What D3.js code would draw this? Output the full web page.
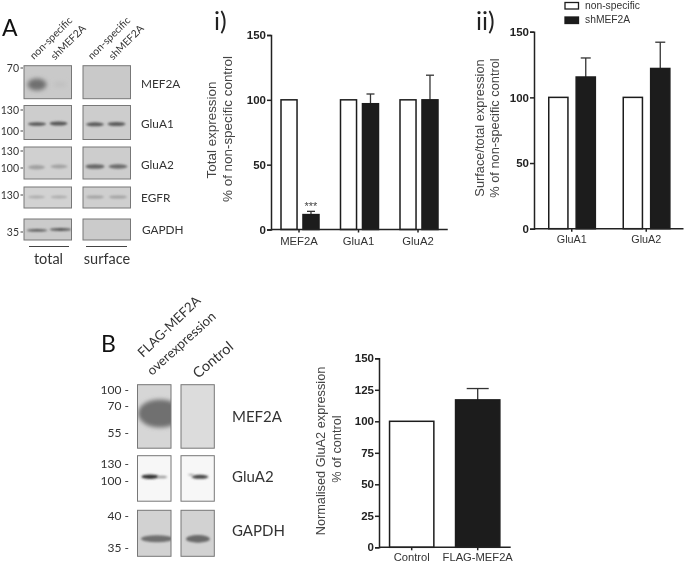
<!DOCTYPE html>
<html><head><meta charset="utf-8">
<script src="https://cdnjs.cloudflare.com/ajax/libs/d3/7.8.5/d3.min.js"></script>
<style>html,body{margin:0;padding:0;background:#fff}svg{display:block;filter:blur(0.4px)}</style>
</head><body><svg id="c" width="685" height="563"></svg>
<script>
const seriesNames=["non-specific","shMEF2A"];
const catsI=["MEF2A","GluA1","GluA2"];
const nonSpecificI=[100,100,100];
const shI=[11.5,97,100];
const shIErrTop=[14,104.5,119];
const catsII=["GluA1","GluA2"];
const nonSpecificII=[100,100];
const shII=[115.5,122];
const shIIErrTop=[130,142];
const catsB=["Control","FLAG-MEF2A"];
const valuesB=[100,117];
const errTopB=[null,126];
const ticks50=[0,50,100,150];
const ticks25=[0,25,50,75,100,125,150];

const svg=d3.select("#c");
const defs=svg.append("defs");
[["b1",1.1],["b2",2],["b3",3]].forEach(([id,s])=>defs.append("filter").attr("id",id)
  .attr("x","-50%").attr("y","-150%").attr("width","200%").attr("height","400%")
  .append("feGaussianBlur").attr("stdDeviation",s));
const SANS="'Liberation Sans',Arial,sans-serif", CAL="Lato,'Open Sans',sans-serif";
const INK="#1c1c1c";

function barChart(o){
  const g=svg.append("g");
  const x=d3.scaleBand().domain(o.cats).range(o.xr);
  const y=d3.scaleLinear().domain([0,150]).range(o.yr);
  const rows=o.cats.flatMap((c,i)=>o.series.map((s,j)=>({c,k:s.fill?s.fill[i]:j,j,v:s.vals[i],e:s.err?s.err[i]:null})));
  const x1=d3.scaleBand().domain(o.series.map((_,j)=>j)).range([0,o.gw]).paddingInner(o.pi);
  const bx=d=>x(d.c)+x.bandwidth()/2-o.gw/2+o.dx+x1(d.j);
  const er=rows.filter(d=>d.e!=null);
  const ex=d=>bx(d)+x1.bandwidth()/2;
  g.selectAll(".ev").data(er).join("line").attr("x1",ex).attr("x2",ex).attr("y1",d=>y(d.v)).attr("y2",d=>y(d.e)).attr("stroke","#333").attr("stroke-width",1.3);
  g.selectAll(".ec").data(er).join("line").attr("x1",d=>ex(d)-o.cap).attr("x2",d=>ex(d)+o.cap).attr("y1",d=>y(d.e)).attr("y2",d=>y(d.e)).attr("stroke","#333").attr("stroke-width",1.3);
  g.selectAll(".bar").data(rows).join("rect").attr("x",bx).attr("y",d=>y(d.v)).attr("width",x1.bandwidth()).attr("height",d=>y(0)-y(d.v))
    .attr("fill",d=>d.k==0?"#fff":INK).attr("stroke",INK).attr("stroke-width",1.5);
  const ay=g.append("g").attr("transform",`translate(${o.ax},0)`).call(d3.axisLeft(y).tickValues(o.ticks).tickSize(4).tickPadding(1));
  const ax=g.append("g").attr("transform",`translate(0,${o.yr[0]})`).call(d3.axisBottom(x).tickSize(3).tickPadding(o.tp||4));
  ax.select(".domain").attr("d",`M${o.ax},0H${o.xr[1]}`);
  [ay,ax].forEach(a=>{a.selectAll("path,line").attr("stroke","#222").attr("stroke-width",1.5);});
  ay.selectAll("text").attr("font-family",SANS).attr("font-size",11.5).attr("font-weight","bold").attr("fill","#222");
  ax.selectAll("text").attr("font-family",SANS).attr("font-size",o.cfs).attr("fill","#333");
  o.ylab.forEach(l=>g.append("text").attr("transform",`translate(${l[1]},${l[2]}) rotate(-90)`).attr("text-anchor","middle").attr("dominant-baseline","middle")
    .attr("font-family",SANS).attr("font-size",o.lfs).attr("fill","#444").text(l[0]));
  return {x,y,x1,bx};
}

const ci=barChart({cats:catsI,series:[{vals:nonSpecificI},{vals:shI,err:shIErrTop}],xr:[269.25,447.75],yr:[229.5,35],ax:271,gw:38,pi:.27,dx:1,cap:4,ticks:ticks50,cfs:11.3,lfs:13.4,
  ylab:[["Total expression",212,130],["% of non-specific control",228,129]]});
svg.append("text").attr("x",ci.bx({c:"MEF2A",j:1})+ci.x1.bandwidth()/2).attr("y",ci.y(shIErrTop[0])-1).attr("text-anchor","middle").attr("font-family",SANS).attr("font-size",11).attr("fill","#444").text("***");
barChart({cats:catsII,series:[{vals:nonSpecificII},{vals:shII,err:shIIErrTop}],xr:[534.5,683.5],yr:[228.7,31.7],ax:534,gw:46.6,pi:.3,dx:0.3,cap:5,ticks:ticks50,cfs:10.8,lfs:12.8,
  ylab:[["Surface/total expression",481,128],["% of non-specific control",496,128]]});
barChart({cats:catsB,series:[{vals:valuesB,err:errTopB,fill:[0,1]}],xr:[378.7,510.7],yr:[547.3,358.3],ax:379,gw:44.3,pi:0,dx:0,cap:11,ticks:ticks25,tp:3,cfs:11.2,lfs:12.75,
  ylab:[["Normalised GluA2 expression",321.7,451],["% of control",338,449]]});

seriesNames.forEach((n,i)=>{
  const yy=[2.5,17][i];
  svg.append("rect").attr("x",565).attr("y",yy).attr("width",13.5).attr("height",6.5).attr("fill",i?INK:"#fff").attr("stroke",INK).attr("stroke-width",1.3);
  svg.append("text").attr("x",585).attr("y",yy+3.5).attr("dominant-baseline","middle").attr("font-family",SANS).attr("font-size",10.3).attr("fill","#333").text(n);
});

function txt(s,x,y,size,anchor,rot,fam,fill){
  return svg.append("text").attr("transform",`translate(${x},${y}) rotate(${rot||0})`).attr("text-anchor",anchor||"start")
   .attr("font-family",fam||CAL).attr("font-size",size).attr("fill",fill||"#333").text(s);
}
txt("i)",214,30,25,"start",0,CAL,"#222");
txt("ii)",476,30,25,"start",0,CAL,"#222");
txt("A",2,36,23,"start",0,CAL,"#111");
txt("B",101,352,23,"start",0,CAL,"#111");

function panel(x,y,w,h,bg,bands){
  const id="cl"+Math.round(x)+"_"+Math.round(y);
  defs.append("clipPath").attr("id",id).append("rect").attr("x",x).attr("y",y).attr("width",w).attr("height",h);
  const g=svg.append("g");
  g.append("rect").attr("x",x).attr("y",y).attr("width",w).attr("height",h).attr("fill",bg);
  const gb=g.append("g").attr("clip-path",`url(#${id})`);
  (bands||[]).forEach(b=>{
    gb.append("ellipse").attr("cx",b[0]).attr("cy",b[1]).attr("rx",b[2]).attr("ry",b[3]).attr("fill",b[4]).attr("filter",`url(#${b[5]||"b1"})`);
  });
  g.append("rect").attr("x",x).attr("y",y).attr("width",w).attr("height",h).attr("fill","none").attr("stroke","#777").attr("stroke-width",1);
}
const C1=24,C2=83,W=47.5;
const gr="#c9c9c9";
panel(C1,65.7,W,33,gr,[[37,84.5,9.5,6,"#6f6f6f","b2"],[60,84.5,6.5,2.8,"#c0c0c0","b2"]]);
panel(C2,65.7,W,33,gr);
panel(C1,105.5,W,34,"#cdcdcd",[[37,124,9,1.8,"#555"],[58.5,123.5,9,2,"#555"]]);
panel(C2,105.5,W,34,"#cdcdcd",[[95,124.3,9,2,"#5a5a5a"],[116.5,124,9,2,"#5a5a5a"]]);
panel(C1,147,W,32,"#d0d0d0",[[36.5,167.3,8.5,2.2,"#a0a0a0"],[59,166.5,8.5,1.9,"#a2a2a2"]]);
panel(C2,147,W,32,"#cdcdcd",[[95,166.5,9.5,2.3,"#666"],[118,166.5,9.5,2.2,"#6a6a6a"]]);
panel(C1,187,W,21,"#d2d2d2",[[36.5,197,8.5,1.4,"#acacac"],[59,197,8.5,1.4,"#acacac"]]);
panel(C2,187,W,21,"#cfcfcf",[[95,197,9,1.6,"#a2a2a2"],[118,197,9,1.6,"#a2a2a2"]]);
panel(C1,219,W,21,"#cbcbcb",[[37,230.3,10.5,1.3,"#555"],[60.5,229.5,11,1.5,"#555"]]);
panel(C2,219,W,21,"#cbcbcb");

[["70",68],["130",110],["100",131],["130",151],["100",168],["130",195],["35",232]].forEach(d=>{
  txt(d[0],19,d[1]+3.5,10.5,"end",0,CAL,"#333");
  svg.append("line").attr("x1",20.5).attr("x2",23).attr("y1",d[1]).attr("y2",d[1]).attr("stroke","#444");
});
[["MEF2A",141,83],["GluA1",141,123],["GluA2",141,164],["EGFR",141,197],["GAPDH",142,229]].forEach(d=>{
  txt(d[0],d[1],d[2]+4.5,11.8,"start",0,CAL,"#333");
});
[["non-specific",34,60],["shMEF2A",55,60.5],["non-specific",92,60],["shMEF2A",113,60.5]].forEach(d=>txt(d[0],d[1],d[2],10.3,"start",-45,CAL,"#333"));
[[29,69],[86,127]].forEach(d=>svg.append("line").attr("x1",d[0]).attr("x2",d[1]).attr("y1",246.5).attr("y2",246.5).attr("stroke","#444").attr("stroke-width",1));
txt("total",48.5,264,14.5,"middle",0,CAL,"#333");
txt("surface",107,264,14.5,"middle",0,CAL,"#333");

panel(137.5,384.7,33.5,63.5,"#d6d6d6",[[160,413.5,22,14,"#707070","b2"]]);
panel(181,384.7,33.3,63.5,"#dcdcdc");
panel(137.5,455.7,33.5,45.5,"#f7f7f7",[[150,476.7,8.5,2.3,"#333"],[162,477,5,1.3,"#999"]]);
panel(181,455.7,33.3,45.5,"#f7f7f7",[[200,476.8,8.5,2,"#444"],[191,474.8,3,.8,"#999"]]);
panel(137.5,510.3,33.5,46,"#d2d2d2",[[157,538.7,16,3.5,"#707070"]]);
panel(181,510.3,33.3,46,"#d2d2d2",[[198,538.9,12,3.8,"#6a6a6a"]]);
[["100 -",390],["70 -",406],["55 -",432.7],["130 -",464],["100 -",481],["40 -",515.7],["35 -",547.7]].forEach(d=>{
  txt(d[0],129,d[1]+4,12,"end",0,CAL,"#333");
});
[["MEF2A",232,416.7],["GluA2",232,476.7],["GAPDH",232,530.7]].forEach(d=>txt(d[0],d[1],d[2]+5.5,15,"start",0,CAL,"#333"));
txt("FLAG-MEF2A",143,358,13.2,"start",-44,CAL,"#333");
txt("overexpression",152,376,13.2,"start",-42,CAL,"#333");
txt("Control",198,379,14.5,"start",-40,CAL,"#333");
</script>
</body></html>
